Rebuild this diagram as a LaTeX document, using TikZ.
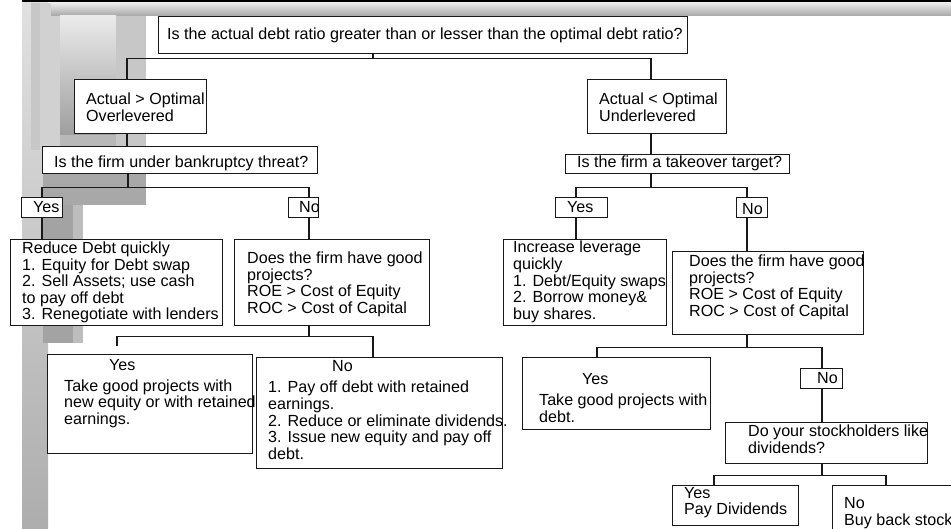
\documentclass[tikz,border=0pt]{standalone}
\usepackage{fontspec}
\setmainfont{Liberation Sans}
\begin{document}
\begin{tikzpicture}[x=1pt,y=-1pt,line join=miter,font=\fontsize{16.1}{16.6}\selectfont]
  \tikzstyle{box}=[draw=black!90,line width=1.3pt,fill=white,anchor=north west,inner sep=0pt]
  \tikzstyle{txt}=[inner sep=0pt,align=left,anchor=west]
  \tikzstyle{link}=[draw=black!90,line width=1.3pt]
  \clip (0,0) rectangle (951,529);
  % slide background
  \draw[line width=1.5pt] (22,1) -- (951,1);
  \shade[top color=black!8,bottom color=black!35] (51,3) rectangle (951,16);
  \shade[top color=black!12,bottom color=black!32] (22,3) rectangle (48,529);
  \fill[black!22] (31,3) rectangle (40,150);
  \fill[black!18] (40,3) rectangle (51,150);
  \fill[black!18] (51,16) rectangle (60,150);
  \shade[top color=black!8,bottom color=black!38] (60,16) rectangle (116,135);
  \fill[black!22] (116,16) rectangle (146,150);
  \fill[black!28] (60,135) rectangle (116,150);
  \fill[black!34] (43,150) rectangle (146,205);
  \fill[black!36] (43,205) rectangle (73,343);
  \fill[black!26] (73,205) rectangle (83,343);
  % boxes
  \node[box,minimum width=529,minimum height=37] (q0) at (158,16) {};
  \node[box,minimum width=132,minimum height=54] (over) at (74,79) {};
  \node[box,minimum width=139,minimum height=54] (under) at (587,79) {};
  \node[box,minimum width=275,minimum height=27] (bank) at (42,146) {};
  \node[box,minimum width=224,minimum height=19] (take) at (565,154) {};
  \node[box,minimum width=41,minimum height=20] (yesA) at (21,197) {};
  \node[box,minimum width=30,minimum height=20] (noA) at (288,197) {};
  \node[box,minimum width=52,minimum height=20] (yesB) at (555,197) {};
  \node[box,minimum width=31,minimum height=20] (noB) at (736,197) {};
  \node[box,minimum width=212,minimum height=86] (reduce) at (10,239) {};
  \node[box,minimum width=195,minimum height=86] (goodA) at (234,239) {};
  \node[box,minimum width=163,minimum height=86] (incr) at (503,239) {};
  \node[box,minimum width=191,minimum height=83] (goodB) at (672,251) {};
  \node[box,minimum width=205,minimum height=99] (yesA2) at (47,354) {};
  \node[box,minimum width=246,minimum height=111] (noA2) at (256,357) {};
  \node[box,minimum width=188,minimum height=72] (yesB2) at (522,357) {};
  \node[box,minimum width=42,minimum height=20] (noB2) at (800,368) {};
  \node[box,minimum width=202,minimum height=41] (like) at (725,422) {};
  \node[box,minimum width=126,minimum height=40] (pay) at (672,485) {};
  \node[box,minimum width=140,minimum height=60] (buy) at (832,485) {};
  % texts
  \node[txt] (q0t) at (167,35) {Is the actual debt ratio greater than or lesser than the optimal debt ratio?};
  \node[txt] (overt) at (86,107.5) {Actual > Optimal\\Overlevered};
  \node[txt] (undert) at (599,107) {Actual < Optimal\\Underlevered};
  \node[txt] (bankt) at (54,163) {Is the firm under bankruptcy threat?};
  \node[txt] (taket) at (577,163) {Is the firm a takeover target?};
  \node[txt] (yesAt) at (33,207) {Yes};
  \node[txt] (noAt) at (299,207) {No};
  \node[txt] (yesBt) at (567,207) {Yes};
  \node[txt] (noBt) at (742,209) {No};
  \node[txt] (reducet) at (22,282.5) {Reduce Debt quickly\\1. Equity for Debt swap\\2. Sell Assets; use cash\\to pay off debt\\3. Renegotiate with lenders};
  \node[txt] (goodAt) at (247,284.5) {Does the firm have good\\projects?\\ROE > Cost of Equity\\ROC > Cost of Capital};
  \node[txt] (incrt) at (513,282) {Increase leverage\\quickly\\1. Debt/Equity swaps\\2. Borrow money\&\\buy shares.};
  \node[txt] (goodBt) at (689,287.5) {Does the firm have good\\projects?\\ROE > Cost of Equity\\ROC > Cost of Capital};
  \node[txt] (yesA2t) at (64,393.5) {\hspace*{45pt}Yes\\[4.5pt]Take good projects with\\new equity or with retained\\earnings.};
  \node[txt] (noA2t) at (268,410) {\hspace*{64pt}No\\[4.5pt]1. Pay off debt with retained\\earnings.\\2. Reduce or eliminate dividends.\\3. Issue new equity and pay off\\debt.};
  \node[txt] (yesB2t) at (539,398) {\hspace*{43pt}Yes\\[4.5pt]Take good projects with\\debt.};
  \node[txt] (noB2t) at (817,378) {No};
  \node[txt] (liket) at (748,439) {Do your stockholders like\\dividends?};
  \node[txt] (payt) at (684,502.5) {Yes\\Pay Dividends};
  \node[txt] (buyt) at (844,513) {No\\Buy back stock};
  % connectors
  \draw[link] (q0.south -| 373,0) -- ++(0,4) coordinate (j0);
  \draw[link] (over.north -| 127,0) |- (j0) -| (under.north -| 651,0);
  \draw[link] (over.south -| 127,0) -- (bank.north -| 127,0);
  \draw[link] (bank.south -| 128,0) -- ++(0,13) coordinate (j1);
  \draw[link] (yesA.north -| 42,0) |- (j1) -| (noA.north -| 309,0);
  \draw[link] (yesA.south -| 42,0) -- (reduce.north -| 42,0);
  \draw[link] (noA.south -| 309,0) -- (goodA.north -| 309,0);
  \draw[link] (goodA.south -| 309,0) -- ++(0,10) coordinate (j2);
  \coordinate (e0) at (117,346);
  \draw[link] (e0) |- (j2) -| (noA2.north -| 373,0);
  \draw[link] (under.south -| 651,0) -- (take.north -| 651,0);
  \draw[link] (take.south -| 651,0) -- ++(0,13) coordinate (j3);
  \draw[link] (yesB.north -| 576,0) |- (j3) -| (noB.north -| 747,0);
  \draw[link] (yesB.south -| 576,0) -- (incr.north -| 576,0);
  \draw[link] (noB.south -| 747,0) -- (goodB.north -| 747,0);
  \draw[link] (goodB.south -| 747,0) -- ++(0,12) coordinate (j4);
  \draw[link] (yesB2.north -| 597,0) |- (j4) -| (noB2.north -| 822,0);
  \draw[link] (noB2.south -| 822,0) -- (like.north -| 822,0);
  \draw[link] (like.south -| 822,0) -- ++(0,11) coordinate (j5);
  \draw[link] (pay.north -| 714,0) |- (j5) -| (buy.north -| 886,0);
\end{tikzpicture}
\end{document}
